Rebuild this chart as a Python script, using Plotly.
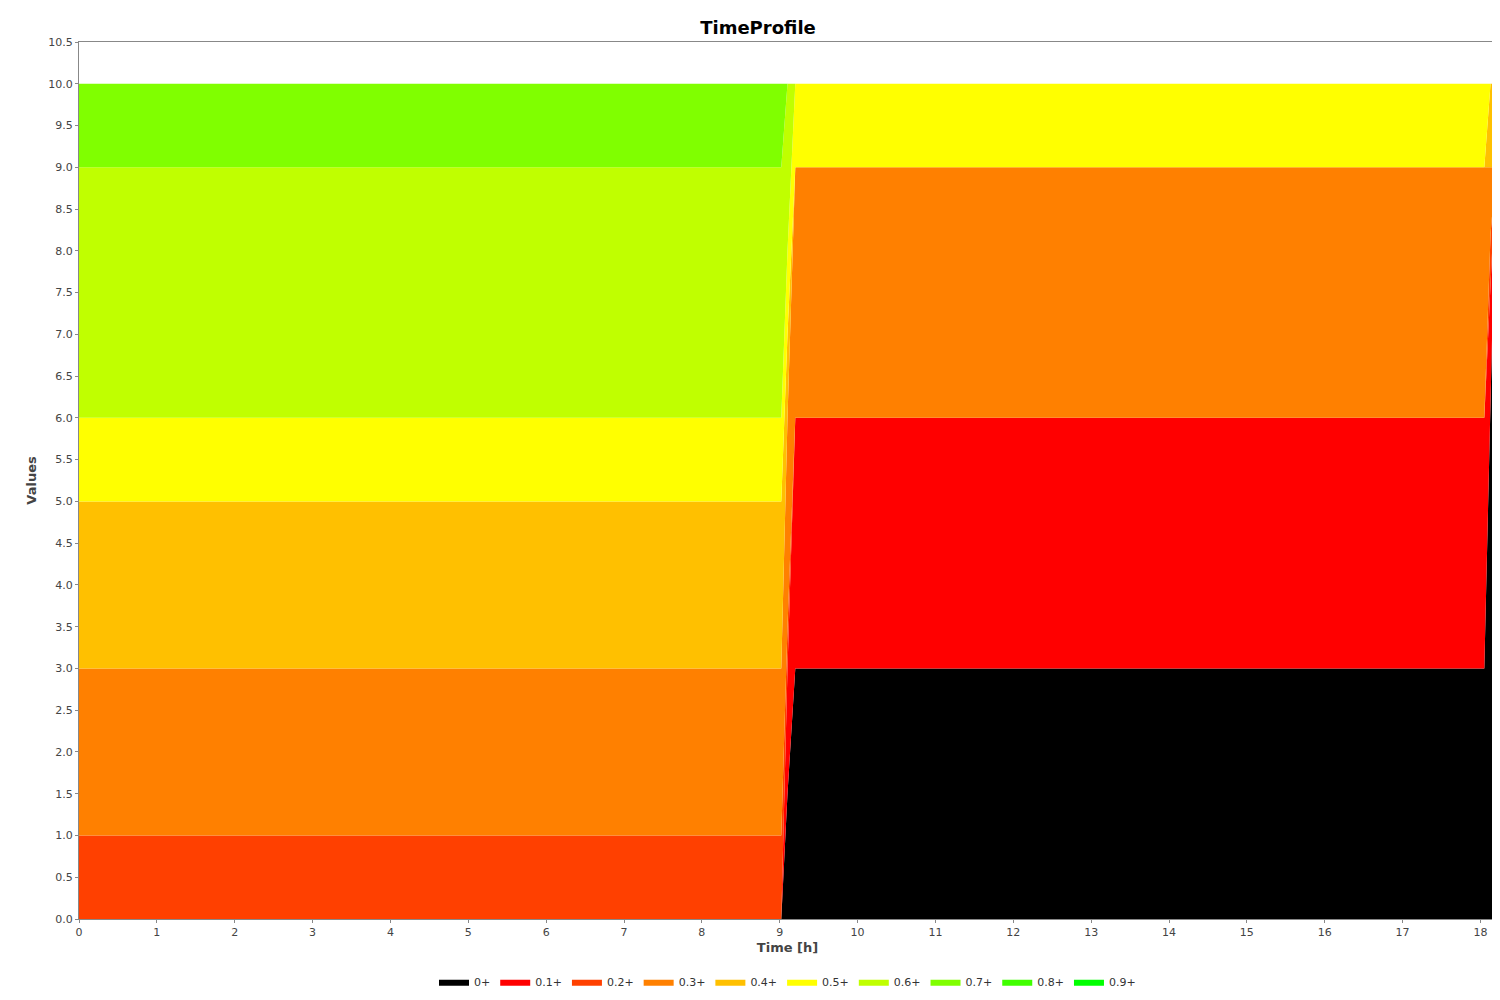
import plotly.graph_objects as go

# time samples [h]
time = [0, 9.02, 9.1, 9.2, 18.05, 18.13, 18.2]
series = ['0+', '0.1+', '0.2+', '0.3+', '0.4+', '0.5+', '0.6+', '0.7+', '0.8+', '0.9+']
colors = ['#000000', '#FF0000', '#FF4000', '#FF8000', '#FFC000',
          '#FFFF00', '#C0FF00', '#80FF00', '#40FF00', '#00FF00']
values = {
    '0+':   [0, 0, 1.5, 3, 3, 6.2, 9],
    '0.1+': [0, 0, 1.5, 3, 3, 1.5, 0],
    '0.2+': [1, 1, 0.5, 0, 0, 0.5, 0],
    '0.3+': [2, 2, 2.5, 3, 3, 0.8, 0],
    '0.4+': [2, 2, 1, 0, 0, 1, 1],
    '0.5+': [1, 1, 1, 1, 1, 0, 0],
    '0.6+': [3, 3, 2, 0, 0, 0, 0],
    '0.7+': [1, 1, 0, 0, 0, 0, 0],
    '0.8+': [0, 0, 0, 0, 0, 0, 0],
    '0.9+': [0, 0, 0, 0, 0, 0, 0],
}

fig = go.Figure()
for name, col in zip(series, colors):
    fig.add_trace(go.Scatter(x=time, y=values[name], name=name, mode='lines',
                             stackgroup='one', line=dict(width=0, color=col),
                             fillcolor=col))

axis_font = dict(family='DejaVu Sans', size=11, color='#444')
fig.update_layout(
    width=1500, height=1000,
    title=dict(text='<b>TimeProfile</b>', x=0.5, y=0.987, xanchor='center',
               font=dict(family='DejaVu Sans', size=18, color='black')),
    plot_bgcolor='white', paper_bgcolor='white',
    margin=dict(l=71, r=12, t=34, b=72),
    xaxis=dict(title=dict(text='<b>Time [h]</b>', font=dict(family='DejaVu Sans', size=13, color='#444'), standoff=4),
               range=[0, 18.2], dtick=1, tickfont=axis_font, showgrid=False,
               showline=True, linecolor='#888', mirror=True, ticks='outside', ticklen=3, tickcolor='#888'),
    yaxis=dict(title=dict(text='<b>Values</b>', font=dict(family='DejaVu Sans', size=13, color='#444'), standoff=8),
               range=[0, 10.5], dtick=0.5, tickformat='.1f', tickfont=axis_font, showgrid=False,
               showline=True, linecolor='#888', mirror=True, ticks='outside', ticklen=3, tickcolor='#888'),
    legend=dict(orientation='h', x=0.5, xanchor='center', y=-0.055, yanchor='top',
                font=dict(family='DejaVu Sans', size=11, color='#333'), itemwidth=30,
                traceorder='normal'),
)
fig.write_html('out.html')
